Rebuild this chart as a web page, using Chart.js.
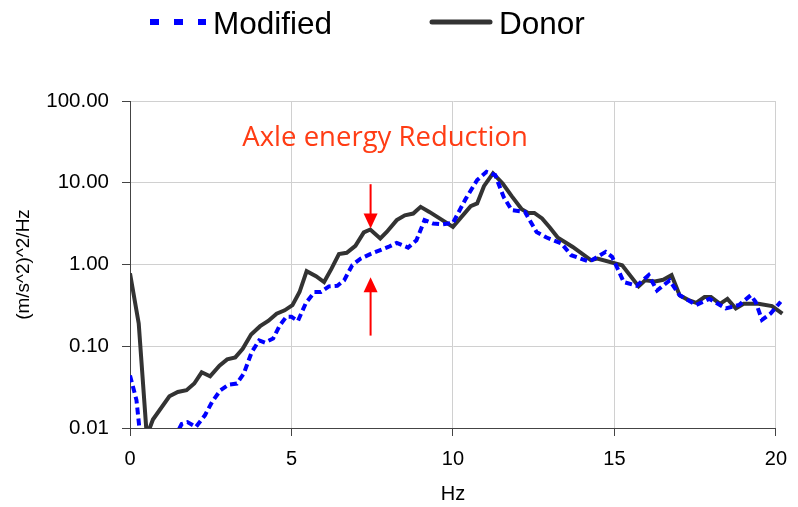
<!DOCTYPE html>
<html>
<head>
<meta charset="utf-8">
<script src="https://cdn.jsdelivr.net/npm/chart.js@4.4.1/dist/chart.umd.min.js"></script>
<style>
  html, body { margin: 0; padding: 0; background: #fff; }
  #wrap { width: 798px; height: 507px; }
</style>
</head>
<body>
<div id="wrap"><canvas id="psdChart" width="798" height="507"></canvas></div>
<script>
// Frequency (Hz) and PSD values
const donorHz = [0, 0.27, 0.52, 0.71, 1.22, 1.48, 1.75, 1.99, 2.22, 2.48, 2.77, 3.01, 3.26, 3.49, 3.75,
    4.03, 4.28, 4.54, 4.79, 5.03, 5.25, 5.47, 5.76, 6.01, 6.24, 6.47, 6.71, 6.98, 7.24, 7.44, 7.75,
    7.95, 8.26, 8.51, 8.77, 9.0, 9.27, 9.77, 10.0, 10.55, 10.75, 10.96, 11.24, 11.54, 11.82, 12.13,
    12.33, 12.52, 12.76, 13.0, 13.25, 13.71, 14.27, 14.47, 15.24, 15.75, 15.95, 16.26, 16.51, 16.77,
    17.02, 17.28, 17.53, 17.79, 17.99, 18.27, 18.5, 18.76, 19.0, 19.46, 19.88, 20.2];
const donorPsd = [0.78, 0.19, 0.008, 0.0127, 0.0244, 0.0276, 0.029, 0.035, 0.048, 0.043, 0.058, 0.069, 0.073, 0.093, 0.139,
    0.176, 0.204, 0.25, 0.275, 0.318, 0.46, 0.83, 0.72, 0.61, 0.89, 1.34, 1.39, 1.69, 2.47, 2.68, 2.08,
    2.5, 3.49, 4.0, 4.2, 5.07, 4.4, 3.3, 2.89, 5.17, 5.58, 9.08, 13.0, 9.8, 6.85, 4.75,
    4.28, 4.28, 3.66, 2.84, 2.12, 1.64, 1.13, 1.18, 0.98, 0.54, 0.64, 0.62, 0.65, 0.74,
    0.42, 0.37, 0.34, 0.40, 0.40, 0.33, 0.38, 0.29, 0.33, 0.33, 0.31, 0.25];

const modHz = [0, 0.2, 0.35, 0.8, 1.25, 1.6, 1.78, 2.04, 2.32, 2.54, 2.8, 3.06, 3.31, 3.52, 3.77,
    4.0, 4.18, 4.43, 4.64, 4.84, 5.0, 5.2, 5.45, 5.71, 5.91, 6.16, 6.42, 6.63, 6.88, 7.14, 7.44,
    7.75, 8.0, 8.26, 8.61, 8.87, 9.12, 9.38, 9.68, 10.0, 10.4, 10.75, 11.04, 11.31, 11.57, 11.82,
    12.23, 12.59, 12.9, 13.36, 13.66, 14.22, 14.73, 14.93, 15.29, 15.69, 16.06, 16.32, 16.71, 17.02,
    17.53, 17.94, 18.45, 18.86, 19.22, 19.37, 19.57, 19.83, 20.15];
const modPsd = [0.044, 0.022, 0.006, 0.004, 0.006, 0.0112, 0.0118, 0.0103, 0.0143, 0.0208, 0.029, 0.034, 0.035, 0.046, 0.085,
    0.118, 0.111, 0.124, 0.181, 0.229, 0.229, 0.204, 0.34, 0.46, 0.46, 0.54, 0.55, 0.64, 0.98, 1.18, 1.34,
    1.50, 1.64, 1.84, 1.61, 1.98, 3.49, 3.18, 3.10, 3.23, 6.4, 10.8, 13.6, 12.4, 6.7, 4.62,
    4.4, 2.5, 2.14, 1.81, 1.3, 1.08, 1.43, 1.24, 0.61, 0.55, 0.74, 0.48, 0.64, 0.42,
    0.32, 0.38, 0.29, 0.32, 0.42, 0.35, 0.21, 0.25, 0.35];

const yTicks = [0.01, 0.1, 1, 10, 100];

// annotation: text + two arrows at the same frequency
const noteText = 'Axle energy Reduction';
const noteHz = 7.9;
const notePsd = 28.3;
const arrowHz = 7.45;
const downArrow = [9.6, 2.75];   // from, to
const upArrow = [0.135, 0.70];

const toPoints = (xs, ys) => xs.map((x, i) => ({ x: x, y: ys[i] }));

// legend drawn by hand, placed like the original (not centred)
const handLegend = {
    id: 'handLegend',
    afterDraw(chart) {
        const ctx = chart.ctx;
        const items = [
            { ds: chart.data.datasets[0], x0: 150, x1: 206, tx: 213 },
            { ds: chart.data.datasets[1], x0: 432, x1: 490, tx: 499 }
        ];
        items.forEach(it => {
            const dashed = !!it.ds.borderDash;
            ctx.save();
            ctx.strokeStyle = it.ds.borderColor;
            ctx.lineWidth = dashed ? 6 : 5;
            ctx.setLineDash(dashed ? [9, 15] : []);
            ctx.lineCap = dashed ? 'butt' : 'round';
            ctx.beginPath();
            ctx.moveTo(it.x0, 22);
            ctx.lineTo(it.x1, 22);
            ctx.stroke();
            ctx.setLineDash([]);
            ctx.fillStyle = '#000';
            ctx.font = '31.5px "Liberation Sans", Arial, sans-serif';
            ctx.textBaseline = 'alphabetic';
            ctx.fillText(it.ds.label, it.tx, 33.5);
            ctx.restore();
        });
    }
};

const reductionNote = {
    id: 'reductionNote',
    afterDatasetsDraw(chart) {
        const ctx = chart.ctx;
        const xs = chart.scales.x, ys = chart.scales.y;
        ctx.save();
        ctx.fillStyle = '#ff3c14';
        ctx.font = '27.5px "Open Sans", sans-serif';
        ctx.textAlign = 'center';
        ctx.textBaseline = 'alphabetic';
        ctx.fillText(noteText, xs.getPixelForValue(noteHz), ys.getPixelForValue(notePsd));

        const ax = xs.getPixelForValue(arrowHz);
        const drawArrow = (from, to) => {
            const y0 = ys.getPixelForValue(from), y1 = ys.getPixelForValue(to);
            const dir = y1 > y0 ? 1 : -1;
            ctx.strokeStyle = '#ff0000';
            ctx.fillStyle = '#ff0000';
            ctx.lineWidth = 2;
            ctx.beginPath();
            ctx.moveTo(ax, y0);
            ctx.lineTo(ax, y1 - dir * 12);
            ctx.stroke();
            ctx.beginPath();
            ctx.moveTo(ax, y1);
            ctx.lineTo(ax - 7, y1 - dir * 15);
            ctx.lineTo(ax + 7, y1 - dir * 15);
            ctx.closePath();
            ctx.fill();
        };
        drawArrow(downArrow[0], downArrow[1]);
        drawArrow(upArrow[0], upArrow[1]);
        ctx.restore();
    }
};

const ctx = document.getElementById('psdChart').getContext('2d');
new Chart(ctx, {
    type: 'line',
    data: {
        datasets: [
            {
                label: 'Modified',
                data: toPoints(modHz, modPsd),
                borderColor: '#0000ff',
                borderWidth: 4,
                borderDash: [7, 4],
                pointRadius: 0,
                tension: 0,
                fill: false,
                clip: { left: 0, top: 0, right: 8, bottom: 0 }
            },
            {
                label: 'Donor',
                data: toPoints(donorHz, donorPsd),
                borderColor: '#333333',
                borderWidth: 4,
                pointRadius: 0,
                tension: 0,
                fill: false,
                clip: { left: 0, top: 0, right: 8, bottom: 0 }
            }
        ]
    },
    options: {
        responsive: false,
        animation: false,
        layout: { padding: { top: 101, right: 14, left: 0, bottom: 0 } },
        plugins: {
            legend: { display: false },
            tooltip: { enabled: false }
        },
        scales: {
            x: {
                type: 'linear',
                min: 0,
                max: 20,
                afterFit: axis => { axis.height = 79; },
                ticks: {
                    stepSize: 5,
                    color: '#000',
                    padding: 11,
                    font: { family: '"Liberation Sans", Arial, sans-serif', size: 20 }
                },
                grid: { color: '#d0d0d0', tickColor: '#444', tickLength: 8 },
                border: { color: '#444', width: 1 },
                title: {
                    display: true,
                    text: 'Hz',
                    color: '#000',
                    padding: { top: 0, bottom: 1 },
                    font: { family: '"Liberation Sans", Arial, sans-serif', size: 20 }
                }
            },
            y: {
                type: 'logarithmic',
                min: 0.01,
                max: 100,
                afterFit: axis => { axis.width = 130; },
                afterBuildTicks: axis => { axis.ticks = yTicks.map(v => ({ value: v })); },
                ticks: {
                    color: '#000',
                    padding: 13,
                    callback: value => Number(value).toFixed(2),
                    font: { family: '"Liberation Sans", Arial, sans-serif', size: 20.5 }
                },
                grid: { color: '#d0d0d0', tickColor: '#444', tickLength: 8 },
                border: { color: '#444', width: 1 },
                title: {
                    display: true,
                    text: '(m/s^2)^2/Hz',
                    color: '#000',
                    padding: { top: 12, bottom: 0 },
                    font: { family: '"Liberation Sans", Arial, sans-serif', size: 19 }
                }
            }
        }
    },
    plugins: [handLegend, reductionNote]
});
</script>
</body>
</html>
